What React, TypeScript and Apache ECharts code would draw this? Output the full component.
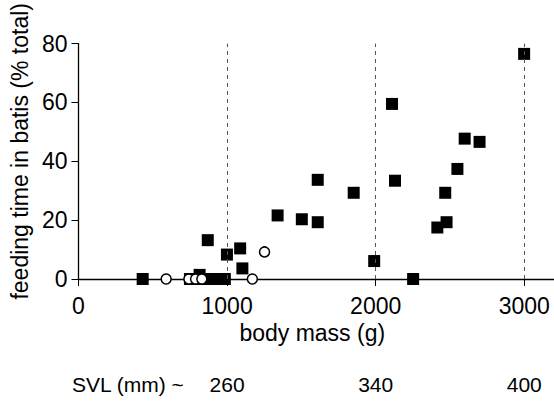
import React, { useEffect, useRef } from "react";
import * as echarts from "echarts";

const xTicks = [0, 1000, 2000, 3000];
const yTicks = [0, 20, 40, 60, 80];
const svlAt = [1000, 2000, 3000];
const svlLabels = ["260", "340", "400"];
const refLines = [1000, 2000, 3000];

// filled squares: [body mass (g), feeding time in batis (% total)]
const filledSquares: [number, number][] = [
  [432, 0], [750, 0], [800, 0], [850, 0], [900, 0], [950, 0], [985, 0],
  [815, 1.4], [870, 13.2], [999, 8.3], [1088, 10.4], [1103, 3.6],
  [1340, 21.6], [1503, 20.3], [1610, 33.7], [1610, 19.3], [1852, 29.3],
  [1990, 6.1], [2110, 59.5], [2130, 33.4], [2252, 0], [2415, 17.5],
  [2477, 19.3], [2468, 29.3], [2550, 37.4], [2599, 47.7], [2699, 46.6],
  [2999, 76.5],
];

// open circles
const openCircles: [number, number][] = [
  [590, 0], [743, 0], [788, 0], [830, 0], [1170, 0], [1252, 9.2],
];

const FONT = "Liberation Sans, Arial, sans-serif";

export default function App() {
  const ref = useRef<HTMLDivElement>(null);
  useEffect(() => {
    if (!ref.current) return;
    const chart = echarts.init(ref.current, null, { renderer: "svg" });
    chart.setOption({
      animation: false,
      backgroundColor: "#fff",
      grid: { left: 74.5, right: 0, top: 42, bottom: 124, containLabel: false },
      xAxis: [
        {
          type: "value",
          min: 0,
          max: 3200,
          interval: 1000,
          name: "body mass (g)",
          nameLocation: "middle",
          nameGap: 42,
          nameTextStyle: { fontSize: 23, color: "#000", fontFamily: FONT, padding: [0, 8, 0, 0] },
          axisLine: { show: true, onZero: false, lineStyle: { color: "#000", width: 1.3 } },
          axisTick: { show: true, length: 7, lineStyle: { color: "#000", width: 1 } },
          splitLine: { show: false },
          axisLabel: {
            margin: 15,
            fontSize: 23,
            color: "#000",
            fontFamily: FONT,
            showMaxLabel: false,
            formatter: (v: number) => (xTicks.includes(v) ? String(v) : ""),
          },
        },
        {
          type: "value",
          position: "bottom",
          min: 0,
          max: 3200,
          interval: 1000,
          axisLine: { show: false, onZero: false },
          axisTick: { show: false },
          splitLine: { show: false },
          axisLabel: {
            margin: 95,
            fontSize: 21,
            color: "#000",
            fontFamily: FONT,
            showMaxLabel: false,
            formatter: (v: number) => {
              const i = svlAt.indexOf(v);
              return i >= 0 ? svlLabels[i] : "";
            },
          },
        },
      ],
      yAxis: {
        type: "value",
        min: 0,
        max: 80,
        interval: 20,
        name: "feeding time in batis (% total)",
        nameLocation: "middle",
        nameGap: 38,
        nameTextStyle: { fontSize: 23, color: "#000", fontFamily: FONT, padding: [0, 0, 0, 20] },
        axisLine: { show: true, onZero: false, lineStyle: { color: "#000", width: 1.3 } },
        axisTick: { show: true, length: 7, lineStyle: { color: "#000", width: 1 } },
        splitLine: { show: false },
        axisLabel: {
          margin: 11,
          fontSize: 23,
          color: "#000",
          fontFamily: FONT,
          formatter: (v: number) => (yTicks.includes(v) ? String(v) : ""),
        },
      },
      graphic: [
        {
          type: "text",
          left: 72,
          top: 374,
          style: { text: "SVL (mm) ~", fontSize: 21, fill: "#000", fontFamily: FONT },
        },
      ],
      series: [
        {
          type: "scatter",
          xAxisIndex: 0,
          data: filledSquares,
          symbol: "rect",
          symbolSize: 12,
          itemStyle: { color: "#000", opacity: 1 },
          markLine: {
            silent: true,
            symbol: ["none", "none"],
            label: { show: false },
            lineStyle: { color: "#555", type: [4, 4], width: 1 },
            data: refLines.map((x) => ({ xAxis: x })),
          },
        },
        {
          type: "scatter",
          xAxisIndex: 0,
          data: openCircles,
          symbol: "circle",
          symbolSize: 10,
          itemStyle: { color: "#fff", borderColor: "#000", borderWidth: 1.5, opacity: 1 },
        },
      ],
    });
    return () => chart.dispose();
  }, []);
  return (
    <div
      ref={ref}
      style={{ position: "fixed", left: 0, top: 0, width: 554, height: 403 }}
    />
  );
}
